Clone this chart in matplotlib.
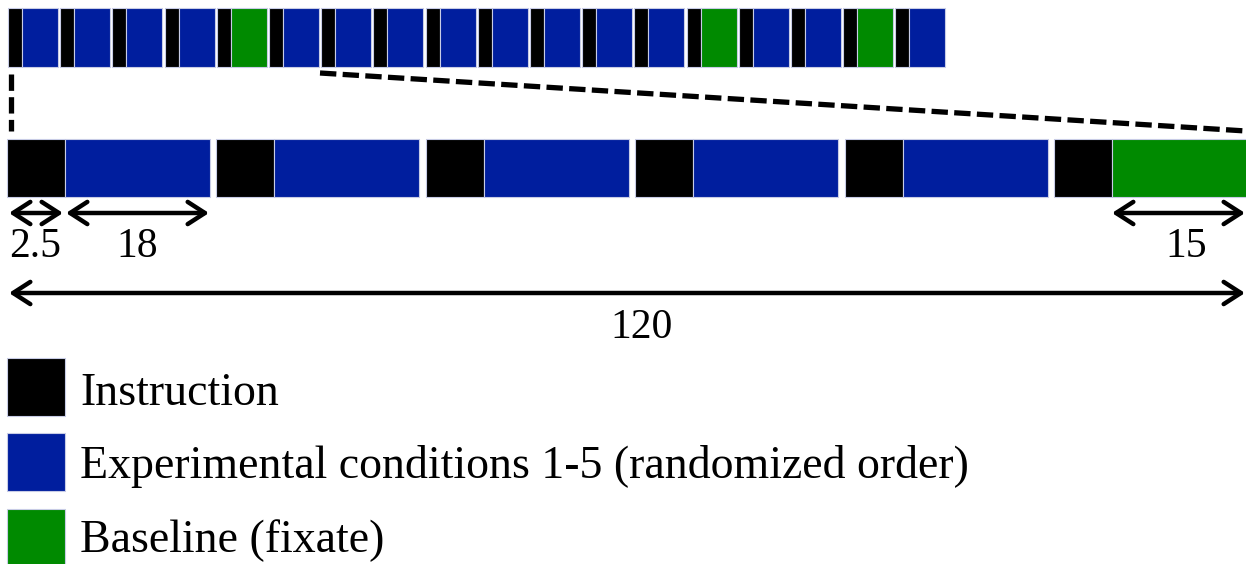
import matplotlib
matplotlib.use('Agg')
import matplotlib.pyplot as plt
from matplotlib.patches import Rectangle

# block sequence of the whole run (top row), and the zoomed segment (bottom row)
top_sequence = ['cond', 'cond', 'cond', 'cond', 'base', 'cond', 'cond', 'cond', 'cond',
                'cond', 'cond', 'cond', 'cond', 'base', 'cond', 'cond', 'base', 'cond']
bottom_sequence = ['cond', 'cond', 'cond', 'cond', 'cond', 'base']

# durations (s) shown under the zoomed segment
dur_instruction = '2.5'
dur_condition = '18'
dur_baseline = '15'
dur_total = '120'

legend_labels = ['Instruction', 'Experimental conditions 1-5 (randomized order)', 'Baseline (fixate)']

colors = {'instr': '#000000', 'cond': '#001e9e', 'base': '#008a00'}
edge = '#c8cce6'
serif = ['Liberation Serif', 'DejaVu Serif']

fig = plt.figure(figsize=(12.46, 5.64), dpi=100)
ax = fig.add_axes([0, 0, 1, 1])
ax.set_xlim(0, 1246)
ax.set_ylim(564, 0)
ax.axis('off')


def draw_row(seq, x0, period, w_instr, w_block, y0, h):
    for i, kind in enumerate(seq):
        x = x0 + i * period
        ax.add_patch(Rectangle((x, y0), w_instr, h, facecolor=colors['instr'],
                               edgecolor=edge, lw=0.8))
        ax.add_patch(Rectangle((x + w_instr, y0), w_block, h, facecolor=colors[kind],
                               edgecolor=edge, lw=0.8))


# top row (whole run)
draw_row(top_sequence, 8, 52.2, 14, 36, 8, 59)
# bottom row (zoomed segment)
draw_row(bottom_sequence, 7, 209.4, 58, 145, 139, 58)

# dashed zoom lines
ax.plot([11, 11], [74, 131], color='black', lw=3.8, dashes=(3.1, 1.2))
ax.plot([320, 1246], [73, 131], color='black', lw=3.8, dashes=(3.1, 1.2))


def span(x0, x1, y):
    ax.annotate('', xy=(x1, y), xytext=(x0, y),
                arrowprops=dict(arrowstyle='<->,head_length=0.62,head_width=0.4',
                                lw=3.2, color='black', shrinkA=0, shrinkB=0,
                                mutation_scale=20, capstyle='round', joinstyle='round'))


span(9, 63, 213)
span(66, 209, 213)
span(1112, 1245, 213)
span(9, 1245, 293)

num_kw = dict(fontsize=30, family=serif, ha='center', va='baseline')
ax.text(35, 257, dur_instruction, **num_kw)
ax.text(137.5, 257, dur_condition, **num_kw)
ax.text(1186, 257, dur_baseline, **num_kw)
ax.text(642, 338, dur_total, **num_kw)

# legend
leg_keys = ['instr', 'cond', 'base']
leg_tops = [358, 433, 509]
leg_base = [405, 478, 552]
for k, top, base, lab in zip(leg_keys, leg_tops, leg_base, legend_labels):
    ax.add_patch(Rectangle((7, top), 58, 58, facecolor=colors[k], edgecolor=edge, lw=0.8))
    ax.text(80, base, lab, fontsize=33, family=serif, ha='left', va='baseline')

fig.savefig('out.png', dpi=100)
